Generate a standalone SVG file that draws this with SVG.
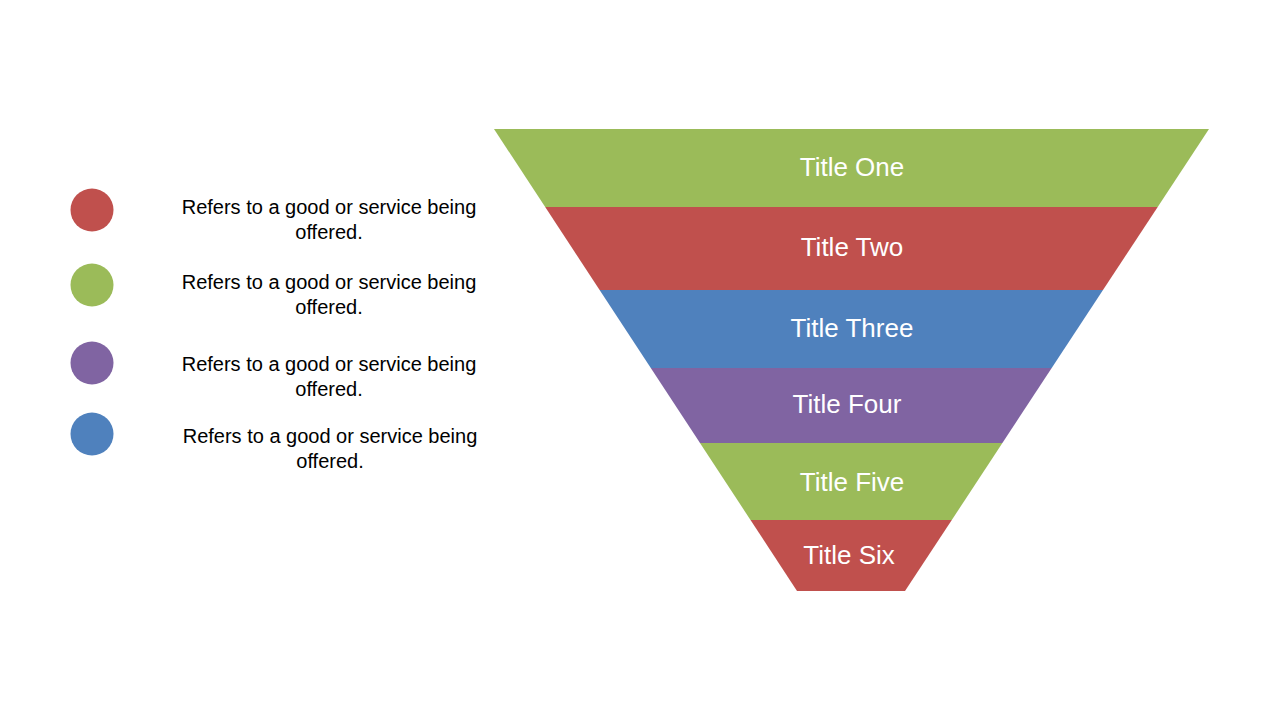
<svg xmlns="http://www.w3.org/2000/svg" width="1280" height="720" viewBox="0 0 1280 720">
<style>
.t{font-family:"Liberation Sans",Arial,sans-serif;font-size:26px;fill:#fff;text-anchor:middle}
.d{font-family:"Liberation Sans",Arial,sans-serif;font-size:20px;fill:#000;text-anchor:middle}
.g{fill:#9BBB59}.r{fill:#C0504D}.b{fill:#4F81BD}.p{fill:#8064A2}
</style>
<rect width="1280" height="720" fill="#fff"/>
<g id="band1"><polygon class="g" points="494,129 1209,129 1157.7,207 545.2,207"/><text class="t" x="852" y="176">Title One</text></g>
<g id="band2"><polygon class="r" points="545.2,207 1157.7,207 1103,290 599.6,290"/><text class="t" x="852" y="256">Title Two</text></g>
<g id="band3"><polygon class="b" points="599.6,290 1103,290 1051.7,368 650.8,368"/><text class="t" x="852" y="337">Title Three</text></g>
<g id="band4"><polygon class="p" points="650.8,368 1051.7,368 1002.4,443 700,443"/><text class="t" x="847" y="413">Title Four</text></g>
<g id="band5"><polygon class="g" points="700,443 1002.4,443 951.8,520 750.5,520"/><text class="t" x="852" y="491">Title Five</text></g>
<g id="band6"><polygon class="r" points="750.5,520 951.8,520 905,591 797,591"/><text class="t" x="849" y="564">Title Six</text></g>
<g id="item1"><circle class="r" cx="92" cy="210" r="21.5"/><text class="d" x="329" y="214">Refers to a good or service being</text><text class="d" x="329" y="239">offered.</text></g>
<g id="item2"><circle class="g" cx="92" cy="285" r="21.5"/><text class="d" x="329" y="289">Refers to a good or service being</text><text class="d" x="329" y="314">offered.</text></g>
<g id="item3"><circle class="p" cx="92" cy="363" r="21.5"/><text class="d" x="329" y="371">Refers to a good or service being</text><text class="d" x="329" y="396">offered.</text></g>
<g id="item4"><circle class="b" cx="92" cy="434" r="21.5"/><text class="d" x="330" y="443">Refers to a good or service being</text><text class="d" x="330" y="468">offered.</text></g>
<g id="connectors"></g>
</svg>
